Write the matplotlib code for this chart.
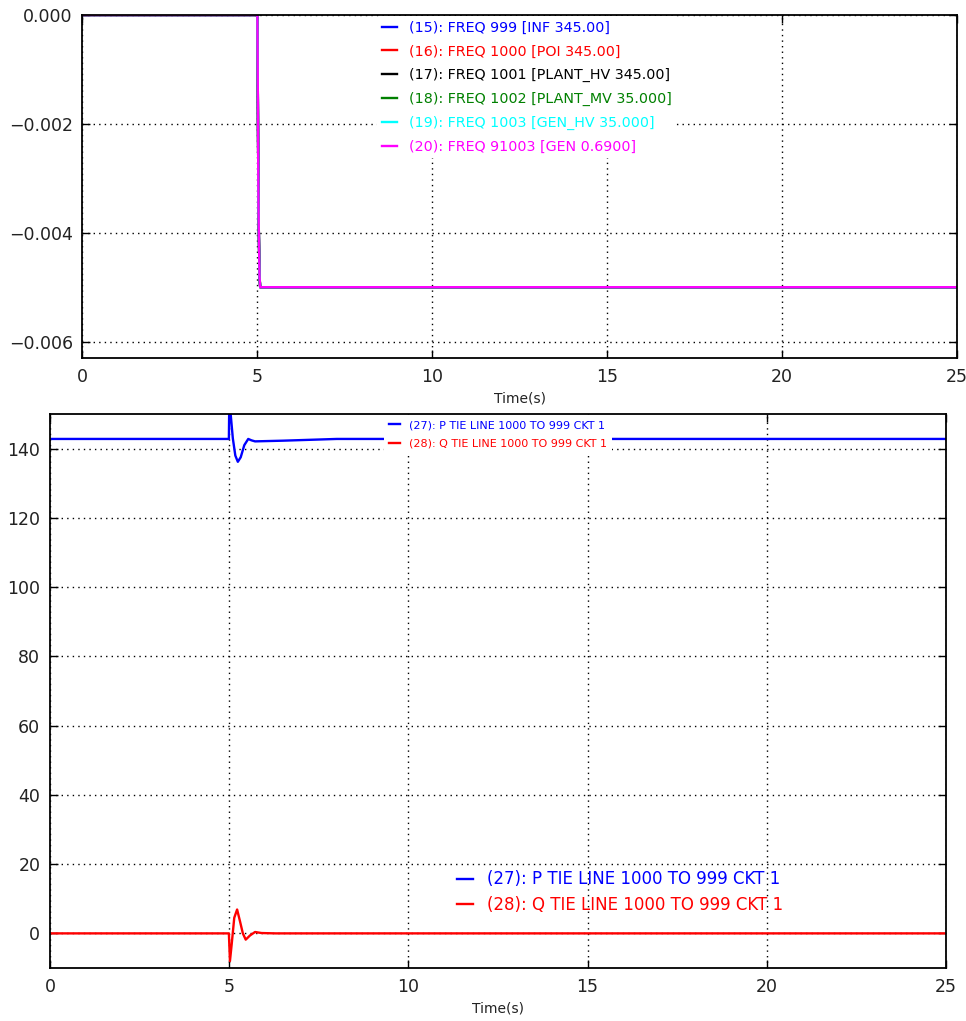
import numpy as np
import matplotlib
matplotlib.use("Agg")
import matplotlib.pyplot as plt

# frequency deviation (all six buses sit on top of each other)
t_freq = [0, 5.0, 5.03, 5.06, 5.08, 25]
freq_dev = [0, 0, -0.0035, -0.0048, -0.005, -0.005]
freq_labels = ["(15): FREQ 999 [INF 345.00]",
               "(16): FREQ 1000 [POI 345.00]",
               "(17): FREQ 1001 [PLANT_HV 345.00]",
               "(18): FREQ 1002 [PLANT_MV 35.000]",
               "(19): FREQ 1003 [GEN_HV 35.000]",
               "(20): FREQ 91003 [GEN 0.6900]"]
freq_colors = ["#0000ff", "#ff0000", "#000000", "#008000", "#00ffff", "#ff00ff"]

# tie line flows
t_p = [0, 4.99, 5.0, 5.02, 5.04, 5.1, 5.17, 5.24, 5.32, 5.42, 5.53, 5.62, 5.72, 6.5, 8, 25]
p_tie = [142.8, 142.8, 152, 153, 150, 143, 138, 136.2, 137.5, 141.0, 142.8, 142.4, 142.1, 142.3, 142.8, 142.8]
t_q = [0, 4.99, 5.02, 5.07, 5.14, 5.22, 5.3, 5.38, 5.46, 5.58, 5.72, 5.9, 6.3, 25]
q_tie = [0, 0, -8.0, -3, 4.5, 6.9, 3.5, 0, -1.8, -0.6, 0.4, 0.1, 0, 0]
tie_labels = ["(27): P TIE LINE 1000 TO 999 CKT 1",
              "(28): Q TIE LINE 1000 TO 999 CKT 1"]

fig = plt.figure(figsize=(9.66, 10.21), dpi=100)
ax1 = fig.add_axes([0.0854, 0.6494, 0.9053, 0.3359])
ax2 = fig.add_axes([0.0518, 0.0519, 0.9275, 0.5426])


def style_axes(ax):
    ax.tick_params(direction="in", top=True, right=True, length=6, width=1,
                   labelsize=12.5, labelcolor="#222222", pad=7)
    ax.grid(True, color="k", linestyle=(0, (1, 3)), linewidth=1)
    for s in ax.spines.values():
        s.set_linewidth(1.3)
    ax.set_xlim(0, 25)
    ax.set_xticks([0, 5, 10, 15, 20, 25])
    ax.set_xlabel("Time(s)", fontsize=10, color="#222222", labelpad=4)


# 위: 주파수
for lab, col in zip(freq_labels, freq_colors):
    ax1.plot(t_freq, freq_dev, color=col, lw=1.7, label=lab)
style_axes(ax1)
ax1.set_ylim(-0.0063, 0.0)
ax1.set_yticks([0.0, -0.002, -0.004, -0.006])
ax1.set_yticklabels(["0.000", "\u22120.002", "\u22120.004", "\u22120.006"])
ax1.legend(loc="upper center", bbox_to_anchor=(0.508, 1.0), fontsize=10.3,
           labelcolor="linecolor", handlelength=1.1, handletextpad=0.8,
           borderaxespad=0.1, borderpad=0.3, labelspacing=0.68,
           frameon=True, facecolor="white", edgecolor="none", framealpha=1)

# 아래: 조류
ax2.plot(t_p, p_tie, color="#0000ff", lw=1.7, label=tie_labels[0])
ax2.plot(t_q, q_tie, color="#ff0000", lw=1.7, label=tie_labels[1])
style_axes(ax2)
ax2.set_ylim(-10, 150)
ax2.set_yticks(np.arange(0, 141, 20))

leg_small = ax2.legend(loc="upper center", bbox_to_anchor=(0.5, 1.0), fontsize=8,
                       labelcolor="linecolor", handlelength=1.05, handletextpad=0.8,
                       borderaxespad=0.1, borderpad=0.45, labelspacing=0.75,
                       frameon=True, facecolor="white", edgecolor="none", framealpha=1)
ax2.add_artist(leg_small)
ax2.legend(loc="center", bbox_to_anchor=(0.636, 0.137), fontsize=12,
           labelcolor="linecolor", handlelength=1.0, handletextpad=0.8,
           labelspacing=0.45, frameon=False)

fig.savefig("out.png", dpi=100)
